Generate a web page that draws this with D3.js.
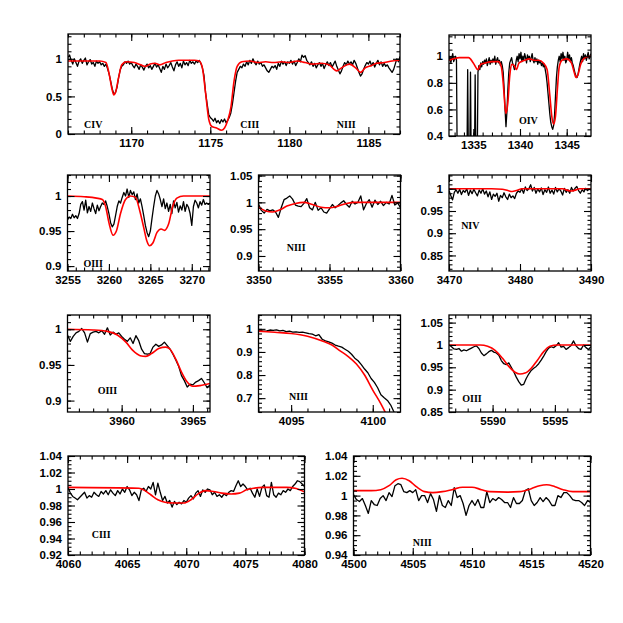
<!DOCTYPE html>
<meta charset="utf-8">
<script src="https://d3js.org/d3.v7.min.js"></script>
<style>
  body { margin: 0; background: #fff; }
</style>
<div id="my_dataviz"></div>
<script>

// ---------- observed spectra (uniform wavelength grid: start, step, fluxes) ----------
var civObsStart = 1166.0, civObsStep = 0.1;
var civObs = [
  1.02,1.05,0.98,0.93,1.00,0.95,0.90,0.97,1.00,0.94,
  0.98,1.01,0.92,0.96,0.99,0.93,0.95,0.90,0.97,0.94,
  0.96,0.92,0.94,0.90,0.93,0.87,0.80,0.70,0.60,0.53,
  0.55,0.62,0.75,0.85,0.90,0.92,0.96,0.94,0.97,0.93,
  0.95,0.91,0.88,0.93,0.90,0.86,0.92,0.89,0.85,0.90,
  0.93,0.88,0.91,0.86,0.90,0.94,0.89,0.92,0.87,0.82,
  0.90,0.86,0.93,0.88,0.91,0.95,0.89,0.84,0.92,0.96,
  0.90,0.94,0.88,0.97,0.92,0.95,0.91,0.98,0.94,0.96,
  0.93,0.97,0.95,0.98,0.94,0.88,0.78,0.55,0.40,0.26,
  0.22,0.20,0.17,0.21,0.15,0.18,0.14,0.19,0.16,0.20,
  0.15,0.18,0.22,0.28,0.40,0.55,0.70,0.82,0.86,0.90,
  0.88,0.93,0.90,0.96,0.92,0.98,0.94,1.00,0.95,0.92,
  0.97,0.93,0.95,0.90,0.92,0.88,0.84,0.82,0.86,0.90,
  0.88,0.91,0.86,0.94,0.90,0.97,0.93,0.96,0.91,0.96,
  0.94,0.98,0.93,0.97,0.91,0.95,1.00,0.96,1.05,1.02,
  1.04,0.98,0.95,0.92,0.96,0.90,0.94,0.88,0.92,0.95,
  0.90,0.94,0.87,0.92,0.96,0.91,0.95,0.89,0.93,0.97,
  0.90,0.85,0.80,0.84,0.90,0.95,0.92,0.97,0.93,0.96,
  0.92,0.98,0.94,0.88,0.82,0.77,0.80,0.86,0.91,0.95,
  0.93,0.97,0.91,0.95,0.89,0.94,0.98,0.92,0.96,0.90,
  0.94,0.90,0.92,0.88,0.85,0.82,0.86,0.93,1.00,0.96,
  1.03
];

var oivObsStart = 1332.4, oivObsStep = 0.1;
var oivObs = [
  0.97,1.00,0.95,0.99,1.02,0.96,0.98,1.00,0.97,
  0,0,0,0,0,0,0,0,0,0,0,
  0.90,0,0,0.88,0,0,0,0,0.86,0,0,0.88,
  0.93,0.90,0.95,0.92,
  0.96,0.94,0.97,0.95,0.98,0.93,0.96,0.99,0.94,0.97,
  0.95,0.98,0.96,1.00,0.94,0.97,0.99,0.95,0.97,0.93,
  0.96,0.93,0.88,0.76,0.60,0.47,0.58,0.75,0.88,0.95,
  0.97,0.99,0.95,0.93,0.90,0.92,0.97,1.00,0.96,1.02,
  0.98,1.03,0.96,1.00,0.97,1.02,0.99,0.95,1.01,0.98,
  1.00,0.96,0.99,1.02,0.97,0.95,0.99,0.96,0.98,0.94,
  0.97,0.95,0.96,0.93,0.95,0.92,0.94,0.90,0.86,0.80,
  0.72,0.64,0.56,0.50,0.47,0.45,0.48,0.56,0.70,0.84,
  0.92,0.97,1.00,0.96,1.02,0.98,1.03,0.97,1.00,0.95,
  0.97,1.03,0.98,1.01,0.96,0.99,0.95,0.93,0.90,0.87,
  0.85,0.84,0.86,0.90,0.94,0.97,1.00,0.96,1.02,0.98,
  1.01,0.97,1.00,1.03,0.98,1.00,1.02
];

var o3aObsStart = 3255.0, o3aObsStep = 0.2;
var o3aObs = [
  0.966,0.970,0.968,0.974,0.969, 0.972,0.968,0.975,0.988,0.992,
  0.980,0.994,0.976,0.985,0.978, 0.990,0.982,0.975,0.987,0.979,
  0.985,0.990,0.988,0.993,0.985, 0.975,0.962,0.956,0.960,0.972,
  0.985,0.993,0.990,0.998,1.005, 1.000,1.010,0.998,1.008,1.002,
  1.006,0.995,1.003,0.990,0.996, 0.985,0.972,0.958,0.948,0.942,
  0.950,0.968,0.985,1.000,1.008, 1.003,0.995,0.985,0.996,0.982,
  0.990,0.978,0.988,0.975,0.993, 0.983,0.991,0.977,0.986,0.980,
  0.992,0.978,0.988,0.984,0.975, 0.958,0.985,0.994,0.990,0.983,
  0.992,0.987,0.995,0.988,0.990, 0.988,0.990
];

var n3aObsStart = 3350.0, n3aObsStep = 0.2;
var n3aObs = [
  0.997,0.985,0.980,0.987,0.984, 0.986,0.982,0.972,0.990,1.005,
  1.008,1.012,1.006,0.995,0.993, 0.992,0.998,1.007,0.990,0.986,
  1.000,0.985,0.990,0.982,0.980, 0.988,0.996,0.990,0.994,0.999,
  1.003,0.996,0.991,1.002,0.997, 1.000,1.012,0.986,0.998,1.005,
  0.991,1.004,0.996,1.002,0.994, 1.000,0.997,1.013,0.995,0.999,
  0.990
];

var n4ObsStart = 3470.0, n4ObsStep = 0.25;
var n4Obs = [
  0.996,0.985,0.975,0.992, 0.998,0.990,0.999,0.987, 0.996,0.992,1.000,0.985,
  0.997,0.989,0.999,0.991, 0.984,0.997,0.990,1.000, 0.988,0.995,0.982,0.993,
  0.976,0.988,0.983,0.990, 0.972,0.985,0.980,0.991, 0.982,0.976,0.988,0.980,
  0.984,0.978,0.990,0.995, 0.992,1.000,0.990,1.004, 0.996,1.000,1.009,0.995,
  1.003,0.990,1.000,0.993, 1.002,0.987,0.998,0.992, 1.004,0.990,0.997,0.988,
  1.003,0.993,1.000,0.995, 0.986,1.001,0.992,0.998, 0.990,1.003,0.995,1.001,
  1.005,0.996,0.990,0.998, 0.993,1.001,0.996,0.999, 0.997
];

var o3bObsStart = 3956.2, o3bObsStep = 0.2;
var o3bObs = [
  0.992,0.983,0.990,0.995, 0.997,1.001,0.995,0.982,0.994,
  0.996,0.997,0.995,0.998,0.993, 1.002,0.992,0.996,0.993,0.995,
  0.990,0.986,0.983,0.988,0.980, 0.991,0.984,0.972,0.966,0.965,
  0.966,0.975,0.979,0.976,0.978, 0.982,0.977,0.972,0.965,0.957,
  0.948,0.935,0.928,0.919,0.923, 0.922,0.926,0.928,0.931,0.925,
  0.918,0.922
];

var n3bObsStart = 4092.9, n3bObsStep = 0.2;
var n3bObs = [
  0.993,0.993,0.990,0.991,0.995,0.993, 0.996,0.991,0.993,0.988,0.990,
  0.986,0.987,0.985,0.986,0.983, 0.979,0.977,0.970,0.975,0.955,
  0.948,0.944,0.938,0.930,0.925, 0.921,0.912,0.903,0.890,0.873,
  0.862,0.845,0.826,0.810,0.785, 0.768,0.745,0.715,0.702,0.690,
  0.670,0.640,0.610
];

var o3cObsStart = 5586.5, o3cObsStep = 0.2;
var o3cObs = [
  1.000,0.996,0.991, 0.990,0.992,0.986,0.989,0.987,
  0.990,0.993,0.996,0.998,0.992, 0.982,0.976,0.980,0.985,0.988,
  0.984,0.982,0.977,0.965,0.958, 0.956,0.960,0.950,0.940,0.928,
  0.918,0.910,0.912,0.925,0.935, 0.943,0.948,0.952,0.958,0.966,
  0.975,0.985,0.993,0.996,0.994, 0.998,1.005,0.995,0.997,0.990,
  0.994,0.999,1.009,0.998,0.992, 0.990,1.000,0.994,0.990,0.996
];

var c3ObsStart = 4060.0, c3ObsStep = 0.2;
var c3Obs = [
  1.002,0.995,0.991,0.989,0.987, 0.990,0.993,0.996,0.989,0.992,
  0.990,0.996,0.993,0.991,0.997, 0.994,0.998,0.993,0.999,0.995,
  0.992,0.998,0.994,1.000,0.996, 1.003,0.999,0.992,0.996,0.993,
  0.986,0.999,1.001,0.997,1.003, 1.000,1.008,0.993,1.007,0.996,
  0.986,0.991,0.983,0.986,0.978, 0.985,0.981,0.984,0.982,0.986,
  0.984,0.989,0.992,0.988,0.995, 0.998,0.991,0.999,0.996,1.000,
  0.999,0.993,0.996,0.991,0.993, 0.990,0.994,0.992,0.996,0.998,
  0.997,1.004,1.010,1.003,1.006, 1.003,0.999,1.001,0.995,0.990,
  1.000,0.991,1.002,1.005,0.992, 0.990,1.008,0.993,0.990,0.995,
  0.993,0.998,0.996,1.000,0.998, 1.003,1.006,1.010,1.009,1.006,
  1.003
];

var n3cObsStart = 4500.0, n3cObsStep = 0.25;
var n3cObs = [
  1.001,0.996,0.994,0.997, 0.990,0.982,0.995,0.991, 0.990,0.997,1.000,0.995,
  1.003,0.999,1.010,1.012, 1.011,1.004,1.003,1.005, 1.003,1.006,0.995,1.000,
  1.000,0.993,1.002,0.996, 0.984,1.000,0.990,0.988, 0.995,0.990,1.008,0.998,
  1.000,0.992,0.980,0.990, 0.995,0.990,0.996,0.988, 0.988,1.004,0.993,0.997,
  0.995,0.998,0.996,0.993, 0.993,0.988,0.998,0.992, 0.992,0.995,1.005,1.007,
  0.995,0.990,0.993,0.998, 0.994,0.998,0.995,0.990, 0.990,1.000,0.998,1.003,
  1.003,1.000,0.996,0.995, 0.995,0.993,0.990,0.995, 0.993
];

// ---------- model spectra ([wavelength, flux]) ----------
var civModel = [[1166,0.97],[1167,0.97],[1168,0.97],[1168.4,0.95],[1168.6,0.80],[1168.8,0.58],[1168.9,0.52],
  [1169.0,0.55],[1169.2,0.75],[1169.4,0.92],[1169.7,0.96],[1170.2,0.95],[1170.6,0.92],[1170.9,0.90],
  [1171.2,0.93],[1171.5,0.94],[1171.8,0.92],[1172.2,0.95],[1172.6,0.97],[1173.0,0.98],[1174.0,0.98],
  [1174.3,0.97],[1174.5,0.88],[1174.7,0.55],[1174.9,0.20],[1175.1,0.10],[1175.4,0.08],[1175.7,0.05],
  [1175.9,0.08],[1176.1,0.18],[1176.3,0.35],[1176.5,0.70],[1176.7,0.90],[1177.0,0.96],[1177.5,0.97],
  [1178.0,0.95],[1178.5,0.96],[1179.0,0.95],[1179.5,0.96],[1180.0,0.95],[1180.5,0.97],[1181.0,0.95],
  [1181.5,0.93],[1182.0,0.94],[1182.5,0.92],[1183.0,0.84],[1183.3,0.88],[1183.8,0.93],[1184.2,0.88],
  [1184.5,0.82],[1184.8,0.88],[1185.2,0.91],[1185.5,0.94],[1186.0,0.95],[1186.5,0.97],[1187.0,0.98]];

var oivModel = [[1332.4,0.97],[1333.5,0.99],[1334.5,0.99],[1335.0,0.95],[1335.5,0.90],[1335.8,0.94],
  [1336.3,0.95],[1337.0,0.96],[1337.7,0.96],[1338.0,0.92],[1338.2,0.80],[1338.4,0.62],[1338.5,0.57],
  [1338.7,0.65],[1338.9,0.85],[1339.1,0.94],[1339.4,0.93],[1339.6,0.90],[1339.9,0.95],[1340.5,0.97],
  [1341.0,0.98],[1341.5,0.97],[1342.0,0.97],[1342.5,0.95],[1342.9,0.90],[1343.2,0.70],[1343.4,0.55],
  [1343.6,0.49],[1343.8,0.55],[1344.0,0.75],[1344.2,0.92],[1344.5,0.97],[1345.0,0.98],[1345.5,0.95],
  [1345.8,0.88],[1346.0,0.84],[1346.2,0.86],[1346.5,0.94],[1347.0,0.99],[1347.6,1.00]];

var o3aModel = [[3255,1.0],[3257,0.999],[3258.5,0.997],[3259.2,0.995],[3259.6,0.985],[3260.0,0.962],
  [3260.5,0.944],[3260.9,0.95],[3261.4,0.975],[3262.0,0.995],[3262.6,1.0],[3263.2,0.998],[3263.7,0.98],
  [3264.2,0.955],[3264.6,0.935],[3264.9,0.929],[3265.3,0.933],[3265.8,0.948],[3266.3,0.953],
  [3266.7,0.951],[3267.2,0.96],[3267.7,0.985],[3268.2,0.997],[3269,1.0],[3272.2,1.0]];

var n3aModel = [[3350,0.991],[3350.5,0.984],[3351,0.982],[3351.5,0.986],[3352,0.993],[3352.6,0.998],
  [3353.2,1.0],[3353.8,0.996],[3354.4,0.991],[3355,0.99],[3355.6,0.993],[3356.2,0.998],[3356.8,1.0],
  [3360,1.0]];

var n4Model = [[3470,1.0],[3476,1.0],[3477.5,0.999],[3478.3,0.996],[3478.9,0.994],[3479.5,0.996],
  [3480.3,1.0],[3486,1.0],[3486.6,0.997],[3487.2,0.995],[3487.8,0.997],[3488.4,1.0],[3490,1.0]];

var o3bModel = [[3956.2,1.0],[3958,0.999],[3959,0.997],[3959.7,0.992],[3960.3,0.982],[3960.8,0.970],
  [3961.3,0.963],[3961.7,0.962],[3962.1,0.966],[3962.6,0.973],[3963.1,0.975],[3963.4,0.972],
  [3963.8,0.958],[3964.2,0.940],[3964.6,0.926],[3965.0,0.920],[3965.5,0.921],[3966.2,0.924]];

var n3bModel = [[4093.0,0.99],[4094,0.985],[4095,0.98],[4096,0.968],[4097,0.945],[4097.5,0.93],
  [4098,0.905],[4098.5,0.88],[4099,0.848],[4099.5,0.80],[4100,0.735],[4100.5,0.675],[4100.9,0.62]];

var o3cModel = [[5586.5,1.0],[5589,1.0],[5589.6,0.997],[5590.2,0.988],[5590.8,0.970],[5591.3,0.952],
  [5591.8,0.939],[5592.2,0.935],[5592.6,0.937],[5593.1,0.948],[5593.6,0.966],[5594.1,0.985],
  [5594.6,0.997],[5595.2,1.0],[5597.9,1.0]];

var c3Model = [[4060,1.002],[4066,1.001],[4066.5,0.998],[4067,0.993],[4067.6,0.987],[4068.2,0.984],
  [4069,0.983],[4069.8,0.983],[4070.4,0.987],[4071,0.994],[4071.6,0.998],[4072.3,0.997],[4073,0.995],
  [4073.8,0.994],[4074.5,0.995],[4075.1,0.999],[4075.7,1.001],[4076.5,1.002],[4078.5,1.002],
  [4079.3,1.0005],[4080,0.9965]];

var n3cModel = [[4500,1.005],[4501.5,1.005],[4502.3,1.006],[4503,1.010],[4503.6,1.016],[4504.1,1.0175],
  [4504.7,1.015],[4505.3,1.009],[4506,1.004],[4506.7,1.003],[4507.5,1.004],[4508.3,1.006],
  [4509.2,1.0085],[4510,1.0085],[4510.8,1.006],[4511.5,1.004],[4513,1.0035],[4514,1.004],[4515,1.007],
  [4515.7,1.010],[4516.3,1.011],[4517,1.009],[4517.7,1.006],[4518.5,1.004],[4520,1.004]];

// ---------- panel layout ----------
var panels = [
  { l: 68,    t: 34,  w: 332,   h: 100, x: [1166, 1187],     y: [0, 1.33],      xt: [5, 1],  yt: [0.5, 0.1],
    obs: [civObsStart, civObsStep, civObs], model: civModel,
    ions: [["CIV", 1167.6, 0.084], ["CIII", 1177.5, 0.084], ["NIII", 1183.6, 0.084]] },
  { l: 449,   t: 35,  w: 142,   h: 101, x: [1332.4, 1347.6], y: [0.4, 1.16],    xt: [5, 1],  yt: [0.2, 0.05],
    obs: [oivObsStart, oivObsStep, oivObs], model: oivModel, ions: [["OIV", 1340.9, 0.489]] },
  { l: 67.5,  t: 175, w: 142.5, h: 96,  x: [3255, 3272.2],   y: [0.893, 1.03],  xt: [5, 1],  yt: [0.05, 0.01],
    obs: [o3aObsStart, o3aObsStep, o3aObs], model: o3aModel, ions: [["OIII", 3258.1, 0.899]] },
  { l: 258.5, t: 175, w: 142,   h: 96,  x: [3350, 3360],     y: [0.872, 1.051], xt: [5, 1],  yt: [0.05, 0.01],
    obs: [n3aObsStart, n3aObsStep, n3aObs], model: n3aModel, ions: [["NIII", 3352.65, 0.909]] },
  { l: 449,   t: 175, w: 142,   h: 96,  x: [3470, 3490],     y: [0.815, 1.031], xt: [10, 2], yt: [0.05, 0.01],
    obs: [n4ObsStart, n4ObsStep, n4Obs], model: n4Model, ions: [["NIV", 3473.0, 0.909]] },
  { l: 67.5,  t: 315, w: 142.5, h: 97,  x: [3956.2, 3966.2], y: [0.884, 1.02],  xt: [5, 1],  yt: [0.05, 0.01],
    obs: [o3bObsStart, o3bObsStep, o3bObs], model: o3bModel, ions: [["OIII", 3959.0, 0.9096]] },
  { l: 258.5, t: 315, w: 142,   h: 97,  x: [4093, 4101.7],   y: [0.64, 1.06],   xt: [5, 1],  yt: [0.1, 0.02],
    obs: [n3bObsStart, n3bObsStep, n3bObs], model: n3bModel, ions: [["NIII", 4095.45, 0.694]] },
  { l: 449,   t: 315, w: 142,   h: 97,  x: [5586.5, 5597.9], y: [0.85, 1.067],  xt: [5, 1],  yt: [0.05, 0.01],
    obs: [o3cObsStart, o3cObsStep, o3cObs], model: o3cModel, ions: [["OIII", 5588.35, 0.872]] },
  { l: 68,    t: 456, w: 236.5, h: 99,  x: [4060, 4080],     y: [0.92, 1.04],   xt: [5, 1],  yt: [0.02, 0.005],
    obs: [c3ObsStart, c3ObsStep, c3Obs], model: c3Model, ions: [["CIII", 4062.8, 0.941]] },
  { l: 353.5, t: 456, w: 237,   h: 99,  x: [4500, 4520],     y: [0.94, 1.04],   xt: [5, 1],  yt: [0.02, 0.005],
    obs: [n3cObsStart, n3cObsStep, n3cObs], model: n3cModel, ions: [["NIII", 4505.8, 0.949]] }
];

var svg = d3.select("#my_dataviz")
  .append("svg")
  .attr("width", 623)
  .attr("height", 623);

// tick positions that fall inside a domain
function ticksIn(dom, step) {
  var lo = Math.ceil(dom[0] / step - 1e-6), hi = Math.floor(dom[1] / step + 1e-6);
  return d3.range(lo, hi + 1).map(function (i) { return +(i * step).toFixed(5); });
}

function addAxis(g, axisFn, scale, values, size, labelled, pad, shift) {
  var a = g.append("g")
    .attr("transform", shift)
    .call(axisFn(scale).tickValues(values).tickSize(-size).tickPadding(pad)
      .tickFormat(labelled ? function (d) { return String(d); } : ""));
  a.select(".domain").remove();
  a.selectAll(".tick line").attr("stroke", "#000").attr("stroke-width", 1.1);
  a.selectAll("text")
    .attr("font-family", "'Liberation Sans', Arial, sans-serif")
    .attr("font-weight", "bold")
    .attr("font-size", 11.5)
    .attr("fill", "#000");
}

panels.forEach(function (p, k) {
  var g = svg.append("g").attr("transform", "translate(" + p.l + "," + p.t + ")");

  var x = d3.scaleLinear().domain(p.x).range([0, p.w]);
  var y = d3.scaleLinear().domain(p.y).range([p.h, 0]);

  g.append("clipPath").attr("id", "clip" + k)
    .append("rect").attr("width", p.w).attr("height", p.h);

  var obs = p.obs[2].map(function (f, i) { return [p.obs[0] + i * p.obs[1], f]; });

  var lineObs = d3.line()
    .x(function (d) { return x(d[0]); })
    .y(function (d) { return y(d[1]); });
  var lineMod = d3.line()
    .curve(d3.curveMonotoneX)
    .x(function (d) { return x(d[0]); })
    .y(function (d) { return y(d[1]); });

  var plot = g.append("g").attr("clip-path", "url(#clip" + k + ")");
  plot.append("path").datum(obs)
    .attr("d", lineObs)
    .attr("fill", "none").attr("stroke", "#000").attr("stroke-width", 1.3)
    .attr("stroke-linejoin", "round");
  plot.append("path").datum(p.model)
    .attr("d", lineMod)
    .attr("fill", "none").attr("stroke", "#ff0000").attr("stroke-width", 1.6);

  // inward ticks on all four sides
  var xMaj = ticksIn(p.x, p.xt[0]), xMin = ticksIn(p.x, p.xt[1]);
  var yMaj = ticksIn(p.y, p.yt[0]), yMin = ticksIn(p.y, p.yt[1]);
  addAxis(g, d3.axisBottom, x, xMin, 3.5, false, 5, "translate(0," + p.h + ")");
  addAxis(g, d3.axisBottom, x, xMaj, 7, true, 5, "translate(0," + p.h + ")");
  addAxis(g, d3.axisTop, x, xMin, 3.5, false, 5, null);
  addAxis(g, d3.axisTop, x, xMaj, 7, false, 5, null);
  addAxis(g, d3.axisLeft, y, yMin, 3.5, false, 6, null);
  addAxis(g, d3.axisLeft, y, yMaj, 7, true, 6, null);
  addAxis(g, d3.axisRight, y, yMin, 3.5, false, 6, "translate(" + p.w + ",0)");
  addAxis(g, d3.axisRight, y, yMaj, 7, false, 6, "translate(" + p.w + ",0)");

  g.append("rect")
    .attr("width", p.w).attr("height", p.h)
    .attr("fill", "none").attr("stroke", "#000").attr("stroke-width", 1.3);

  p.ions.forEach(function (ion) {
    g.append("text")
      .attr("x", x(ion[1])).attr("y", y(ion[2]))
      .attr("text-anchor", "middle")
      .attr("font-family", "'Liberation Serif', 'Times New Roman', serif")
      .attr("font-weight", "bold")
      .attr("font-size", 10)
      .text(ion[0]);
  });
});

</script>
